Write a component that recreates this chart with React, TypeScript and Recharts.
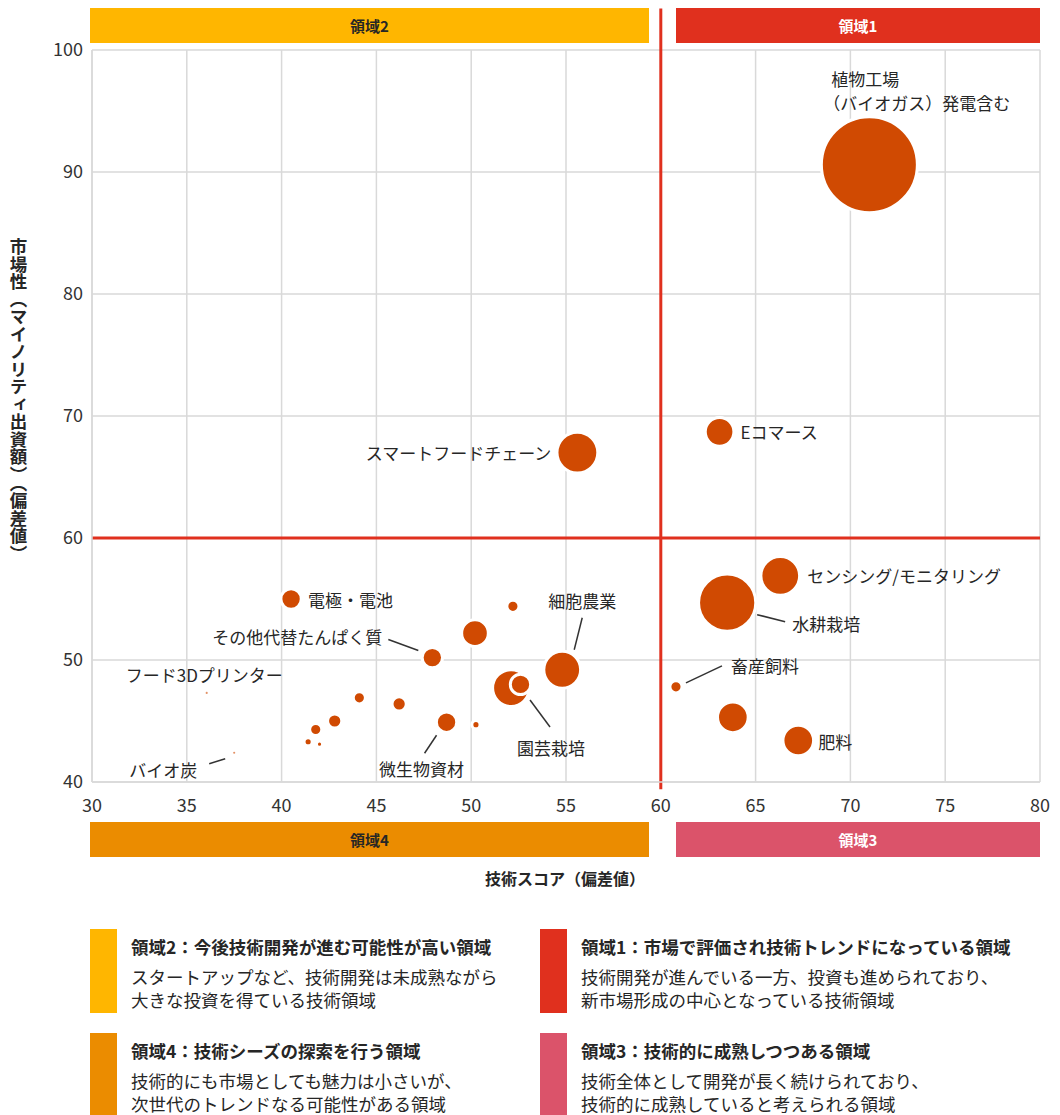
import React from 'react';
import {
  ScatterChart,
  Scatter,
  XAxis,
  YAxis,
  ZAxis,
  CartesianGrid,
  ReferenceLine,
} from 'recharts';

// 技術分野ごとの値（空文字はラベルなし）
const fields = [
  '植物工場', 'Eコマース', 'スマートフードチェーン', 'センシング/モニタリング', '水耕栽培',
  '畜産飼料', '', '肥料', '細胞農業', '園芸栽培',
  '', '電極・電池', 'その他代替たんぱく質', '', '',
  '微生物資材', '', '', '', '',
  '', '', '', 'フード3Dプリンター', 'バイオ炭',
];
const techScore = [
  71.0, 63.1, 55.6, 66.3, 63.5,
  60.8, 63.8, 67.25, 54.8, 52.1,
  52.6, 40.5, 47.95, 52.2, 50.2,
  48.7, 50.25, 46.2, 44.1, 42.8,
  41.8, 41.4, 42.0, 36.05, 37.5,
];
const marketScore = [
  90.6, 68.7, 67.0, 56.9, 54.7,
  47.8, 45.3, 43.4, 49.2, 47.7,
  48.0, 55.0, 50.2, 54.4, 52.2,
  44.9, 44.7, 46.4, 46.9, 45.0,
  44.3, 43.3, 43.1, 47.3, 42.4,
];
// バブルの大きさ（出資規模、最大を100とした相対値）
const investSize = [
  100, 8.9, 18.1, 16.3, 35.5,
  1.6, 10.2, 10.2, 14.7, 14.7,
  4.5, 4.5, 4.5, 1.6, 7.7,
  4.5, 0.72, 2.2, 1.6, 2.2,
  1.6, 0.72, 0.41, 0.05, 0.05,
];

const xTicks = [30, 35, 40, 45, 50, 55, 60, 65, 70, 75, 80];
const yTicks = [40, 50, 60, 70, 80, 90, 100];

const data = fields.map((name, i) => ({
  name,
  x: techScore[i],
  y: marketScore[i],
  z: investSize[i],
}));

const FONT = '"Noto Sans CJK JP", "Noto Sans", sans-serif';
const BUBBLE = '#D04A02';
const RED = '#E0301E';
const INK = '#262626';

type LabelSpec = {
  lines: string[];
  dx: number;
  dy: number;
  anchor?: 'start' | 'middle' | 'end';
  lead?: [number, number, number, number];
};

// ラベル配置（バブル中心からのオフセット）
const labelLayout: Record<string, LabelSpec> = {
  '植物工場': { lines: ['植物工場', '（バイオガス）発電含む'], dx: -38, dy: -86 },
  'Eコマース': { lines: ['Eコマース'], dx: 21, dy: 0 },
  'スマートフードチェーン': { lines: ['スマートフードチェーン'], dx: -26, dy: 0, anchor: 'end' },
  'センシング/モニタリング': { lines: ['センシング/モニタリング'], dx: 27, dy: 0 },
  '水耕栽培': { lines: ['水耕栽培'], dx: 65, dy: 21, lead: [30, 12, 58, 19] },
  '畜産飼料': { lines: ['畜産飼料'], dx: 55, dy: -21, lead: [10, -4, 46, -21] },
  '肥料': { lines: ['肥料'], dx: 20, dy: 1 },
  '細胞農業': { lines: ['細胞農業'], dx: 20, dy: -69, anchor: 'middle', lead: [20, -52, 12, -20] },
  '園芸栽培': { lines: ['園芸栽培'], dx: 40, dy: 59, anchor: 'middle', lead: [19, 12, 39, 39] },
  '微生物資材': { lines: ['微生物資材'], dx: -25, dy: 46, anchor: 'middle', lead: [-10, 13, -22, 31] },
  '電極・電池': { lines: ['電極・電池'], dx: 17, dy: 0 },
  'その他代替たんぱく質': { lines: ['その他代替たんぱく質'], dx: -50, dy: -21, anchor: 'end', lead: [-44, -18, -14, -7] },
  'フード3Dプリンター': { lines: ['フード3Dプリンター'], dx: -81, dy: -18 },
  'バイオ炭': { lines: ['バイオ炭'], dx: -105, dy: 17, lead: [-25, 11, -9, 6] },
};

const Bubble = (props: any) => {
  const { cx, cy, width, payload } = props;
  const r = Math.max(width / 2, 0);
  const spec = labelLayout[payload.name];
  return (
    <g>
      <circle
        cx={cx}
        cy={cy}
        r={r}
        fill={BUBBLE}
        fillOpacity={r < 3 ? 0.6 : 1}
        stroke={r < 3 ? 'none' : '#ffffff'}
        strokeWidth={3}
      />
      {spec && spec.lead && (
        <line
          x1={cx + spec.lead[0]}
          y1={cy + spec.lead[1]}
          x2={cx + spec.lead[2]}
          y2={cy + spec.lead[3]}
          stroke="#333"
          strokeWidth={1.5}
        />
      )}
      {spec &&
        spec.lines.map((t, k) => (
          <text
            key={k}
            x={cx + spec.dx - (k > 0 ? 8 : 0)}
            y={cy + spec.dy + k * 24}
            textAnchor={spec.anchor || 'start'}
            dominantBaseline="central"
            fontFamily={FONT}
            fontSize={17}
            fill={INK}
          >
            {t}
          </text>
        ))}
    </g>
  );
};

const Banner = ({ left, top, width, color, text, textColor }: any) => (
  <div
    style={{
      position: 'absolute',
      left,
      top,
      width,
      height: 35,
      background: color,
      color: textColor,
      fontWeight: 700,
      fontSize: 15,
      lineHeight: '35px',
      textAlign: 'center',
    }}
  >
    {text}
  </div>
);

const LegendItem = ({ left, top, color, title, body }: any) => (
  <div style={{ position: 'absolute', left, top, width: 470, height: 84 }}>
    <div style={{ position: 'absolute', left: 0, top: 0, width: 27, height: 84, background: color }} />
    <div
      style={{
        position: 'absolute',
        left: 41,
        top: 5,
        fontSize: 17.5,
        fontWeight: 700,
        color: INK,
        whiteSpace: 'nowrap',
        lineHeight: '26px',
      }}
    >
      {title}
    </div>
    {body.map((b: string, i: number) => (
      <div
        key={i}
        style={{
          position: 'absolute',
          left: 41,
          top: 36 + i * 23,
          fontSize: 17.5,
          color: INK,
          whiteSpace: 'nowrap',
          lineHeight: '23px',
        }}
      >
        {b}
      </div>
    ))}
  </div>
);

export default function App() {
  return (
    <div
      style={{
        position: 'absolute',
        left: 0,
        top: 0,
        width: 1060,
        height: 1115,
        background: '#fff',
        fontFamily: FONT,
        overflow: 'hidden',
      }}
    >
      <Banner left={90} top={8} width={559} color="#FFB600" text="領域2" textColor={INK} />
      <Banner left={676} top={8} width={364} color="#E0301E" text="領域1" textColor="#fff" />

      <div style={{ position: 'absolute', left: 0, top: 0 }}>
        <ScatterChart width={1060} height={830} margin={{ top: 50, right: 20, left: 40, bottom: 18 }}>
          <CartesianGrid stroke="#d9d9d9" strokeWidth={1.5} horizontalValues={yTicks} verticalValues={xTicks} />
          <XAxis
            type="number"
            dataKey="x"
            domain={[30, 80]}
            ticks={xTicks}
            height={30}
            tickLine={false}
            axisLine={{ stroke: '#d9d9d9', strokeWidth: 1.5 }}
            tickMargin={11}
            tick={{ fontSize: 18, fill: '#333', fontFamily: FONT }}
          />
          <YAxis
            type="number"
            dataKey="y"
            domain={[40, 100]}
            ticks={yTicks}
            width={52}
            tickLine={false}
            axisLine={{ stroke: '#d9d9d9', strokeWidth: 1.5 }}
            tickMargin={3}
            tick={{ fontSize: 18, fill: '#333', fontFamily: FONT }}
          />
          <ZAxis type="number" dataKey="z" domain={[0, 100]} range={[0, Math.PI * 48 * 48]} />
          <ReferenceLine
            segment={[{ x: 60, y: 39.4 }, { x: 60, y: 103.4 }]}
            stroke={RED}
            strokeWidth={3}
            ifOverflow="visible"
          />
          <ReferenceLine y={60} stroke={RED} strokeWidth={3} />
          <Scatter data={data} shape={Bubble} isAnimationActive={false} />
        </ScatterChart>
      </div>

      <div
        style={{
          position: 'absolute',
          left: 0,
          top: 238,
          width: 36,
          height: 345,
          writingMode: 'vertical-rl',
          fontSize: 17.5,
          fontWeight: 700,
          color: INK,
          lineHeight: '36px',
        }}
      >
        市場性（マイノリティ出資額）（偏差値）
      </div>

      <Banner left={90} top={822} width={559} color="#EB8C00" text="領域4" textColor={INK} />
      <Banner left={676} top={822} width={364} color="#DB536A" text="領域3" textColor="#fff" />

      <div
        style={{
          position: 'absolute',
          left: 0,
          top: 866,
          width: 1130,
          textAlign: 'center',
          fontSize: 16,
          fontWeight: 700,
          color: INK,
        }}
      >
        技術スコア（偏差値）
      </div>

      <LegendItem
        left={90}
        top={929}
        color="#FFB600"
        title="領域2：今後技術開発が進む可能性が高い領域"
        body={['スタートアップなど、技術開発は未成熟ながら', '大きな投資を得ている技術領域']}
      />
      <LegendItem
        left={540}
        top={929}
        color="#E0301E"
        title="領域1：市場で評価され技術トレンドになっている領域"
        body={['技術開発が進んでいる一方、投資も進められており、', '新市場形成の中心となっている技術領域']}
      />
      <LegendItem
        left={90}
        top={1033}
        color="#EB8C00"
        title="領域4：技術シーズの探索を行う領域"
        body={['技術的にも市場としても魅力は小さいが、', '次世代のトレンドなる可能性がある領域']}
      />
      <LegendItem
        left={540}
        top={1033}
        color="#DB536A"
        title="領域3：技術的に成熟しつつある領域"
        body={['技術全体として開発が長く続けられており、', '技術的に成熟していると考えられる領域']}
      />
    </div>
  );
}
